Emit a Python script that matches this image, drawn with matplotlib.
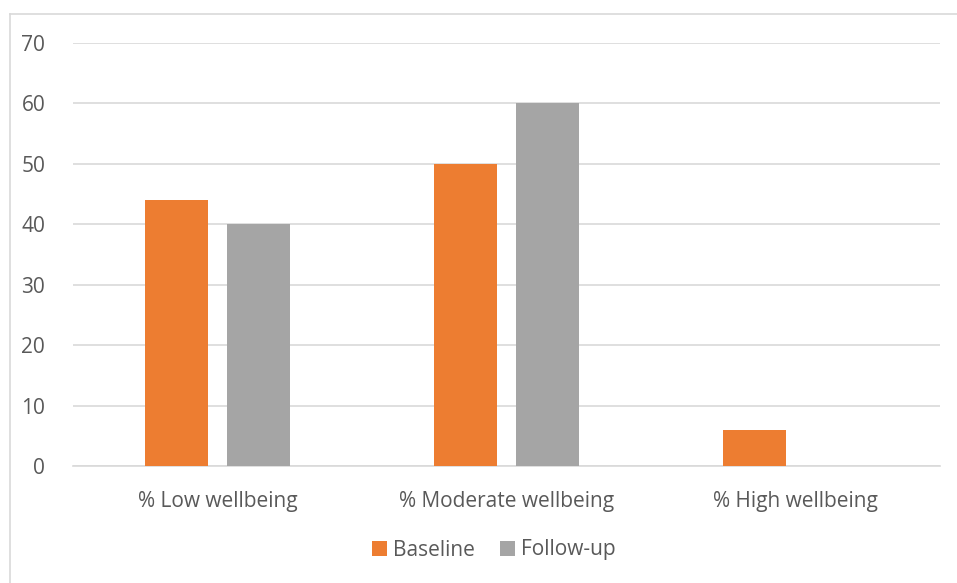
import matplotlib
matplotlib.use("Agg")
import matplotlib.pyplot as plt
import numpy as np
from matplotlib.lines import Line2D

categories = ["% Low wellbeing", "% Moderate wellbeing", "% High wellbeing"]
baseline = [44, 50, 6]
followup = [40, 60, 0]
series_names = ["Baseline", "Follow-up"]
yticks = [0, 10, 20, 30, 40, 50, 60, 70]

plt.rcParams['font.family'] = ['Open Sans', 'DejaVu Sans']
text_color = '#595959'

fig = plt.figure(figsize=(9.57, 5.83), dpi=100)
ax = fig.add_axes([73/957, 1-466/583, (940-73)/957, (466-43)/583])

x = np.arange(len(categories))
w = 0.221
off = 0.142
ax.bar(x - off, baseline, width=w, color='#ED7D31', label=series_names[0], zorder=3)
ax.bar(x + off, followup, width=w, color='#A5A5A5', label=series_names[1], zorder=3)

ax.set_xlim(-0.5, 2.5)
ax.set_ylim(0, 70)
ax.set_yticks(yticks)
ax.set_yticklabels([str(t) for t in yticks])
ax.set_xticks(x)
ax.set_xticklabels(categories)
ax.tick_params(axis='y', length=0, pad=20, labelsize=15, labelcolor=text_color)
ax.tick_params(axis='x', length=0, pad=18, labelsize=15, labelcolor=text_color)
ax.grid(axis='y', color='#D9D9D9', linewidth=1.2, zorder=0)
for s in ['top', 'right', 'left']:
    ax.spines[s].set_visible(False)
ax.spines['bottom'].set_color('#D9D9D9')
ax.spines['bottom'].set_linewidth(1.2)

leg = fig.legend(loc='center', bbox_to_anchor=(494/957, 1-550/583), ncol=2, frameon=False,
                 fontsize=15, handlelength=0.7, handleheight=0.7, handletextpad=0.3,
                 columnspacing=1.2)
for t in leg.get_texts():
    t.set_color(text_color)

# outer chart border
fig.add_artist(Line2D([9.5/957, 9.5/957], [0, 1-13.5/583], transform=fig.transFigure, color='#D9D9D9', linewidth=1.2))
fig.add_artist(Line2D([9.5/957, 1], [1-13.5/583, 1-13.5/583], transform=fig.transFigure, color='#D9D9D9', linewidth=1.2))

fig.savefig("out.png", dpi=100, facecolor='white')
